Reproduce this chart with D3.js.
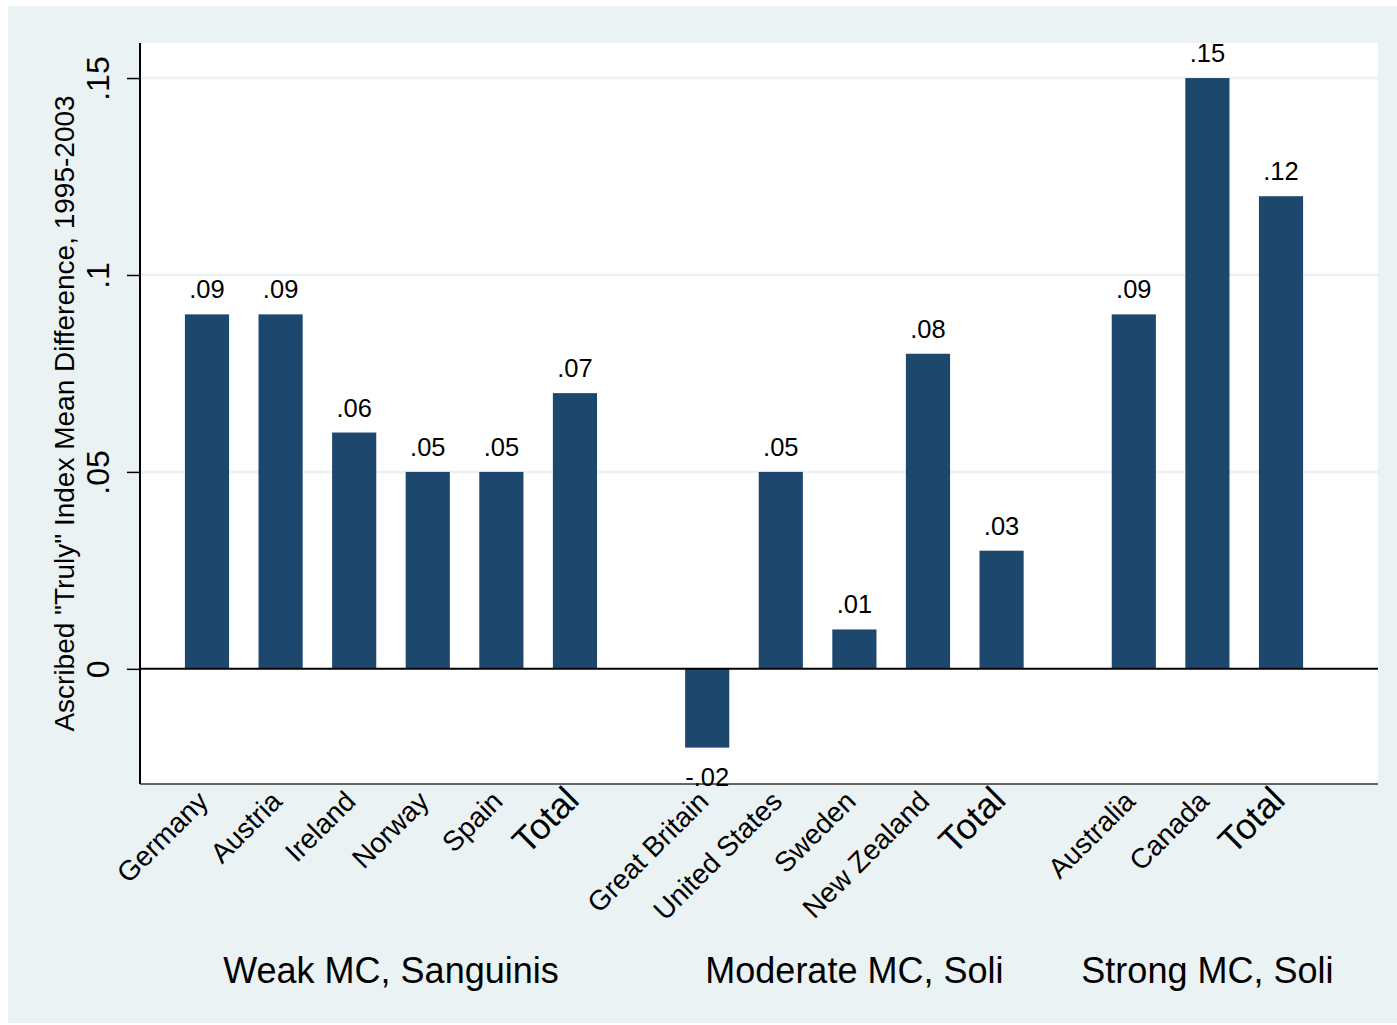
<!DOCTYPE html>
<html>
<head>
<meta charset="utf-8">
<script src="https://cdn.jsdelivr.net/npm/d3@7"></script>
<style>
  html, body { margin: 0; padding: 0; background: #ffffff; }
  svg { display: block; }
  text { font-family: "Liberation Sans", Arial, Helvetica, sans-serif; fill: #000; }
</style>
</head>
<body>
<svg id="chart" width="1397" height="1025"></svg>
<script>
// ---- data ----
const groupNames = ["Weak MC, Sanguinis", "Moderate MC, Soli", "Strong MC, Soli"];
const categories = ["Germany", "Austria", "Ireland", "Norway", "Spain", "Total",
                    "Great Britain", "United States", "Sweden", "New Zealand", "Total",
                    "Australia", "Canada", "Total"];
const groupIndex = [0, 0, 0, 0, 0, 0, 1, 1, 1, 1, 1, 2, 2, 2];
const values = [0.09, 0.09, 0.06, 0.05, 0.05, 0.07,
                -0.02, 0.05, 0.01, 0.08, 0.03,
                0.09, 0.15, 0.12];
const yTicks = [0, 0.05, 0.10, 0.15];
const yTickLabels = ["0", ".05", ".1", ".15"];
const yTitle = 'Ascribed "Truly" Index Mean Difference, 1995-2003';

// ---- layout ----
const svg = d3.select("#chart");
const W = 1397, H = 1025;
const plot = { left: 140, right: 1378, top: 43, bottom: 784 };
const groupGap = 0.797;         // extra slot spacing between groups
const barColor = "#1d476d";
const bgColor = "#eaf2f3";

// outer background
svg.append("rect").attr("x", 8).attr("y", 6).attr("width", W - 8).attr("height", H - 6 - 2)
  .attr("fill", bgColor);
// plot region
svg.append("rect").attr("x", plot.left).attr("y", plot.top)
  .attr("width", plot.right - plot.left).attr("height", plot.bottom - plot.top)
  .attr("fill", "#ffffff");

const slot = categories.map((c, i) => i + groupIndex[i] * groupGap);
const x = d3.scaleLinear()
  .domain([0, categories.length - 1 + (groupNames.length - 1) * groupGap])
  .range([207, 1281]);
const step = x(1) - x(0);
const barW = step * 0.6;

const y = d3.scaleLinear().domain([-0.02924, 0.1589]).range([plot.bottom, plot.top]);

// gridlines
svg.append("g").selectAll("line").data(yTicks.filter(t => t !== 0)).join("line")
  .attr("x1", plot.left).attr("x2", plot.right)
  .attr("y1", d => y(d)).attr("y2", d => y(d))
  .attr("stroke", bgColor).attr("stroke-width", 2.5);

// bars
svg.append("g").selectAll("rect").data(values).join("rect")
  .attr("x", (d, i) => x(slot[i]) - barW / 2)
  .attr("width", barW)
  .attr("y", d => y(Math.max(0, d)))
  .attr("height", d => Math.abs(y(d) - y(0)))
  .attr("fill", barColor);

// zero line
svg.append("line").attr("x1", plot.left).attr("x2", plot.right)
  .attr("y1", y(0)).attr("y2", y(0)).attr("stroke", "#000").attr("stroke-width", 2);

// bottom border line
svg.append("line").attr("x1", plot.left).attr("x2", plot.right)
  .attr("y1", plot.bottom).attr("y2", plot.bottom).attr("stroke", "#333").attr("stroke-width", 1.5);

// value labels
const fmt = v => {
  const s = d3.format(".2f")(Math.abs(v)).replace(/^0/, "");
  return (v < 0 ? "-" : "") + s;
};
svg.append("g").selectAll("text").data(values).join("text")
  .attr("x", (d, i) => x(slot[i]))
  .attr("y", d => d >= 0 ? y(d) - 16 : y(d) + 38)
  .attr("text-anchor", "middle")
  .attr("font-size", 25.5)
  .text(d => fmt(d));

// y axis
const yAxis = d3.axisLeft(y).tickValues(yTicks).tickSize(13)
  .tickFormat((d, i) => yTickLabels[i]);
const ga = svg.append("g").attr("transform", `translate(${plot.left},0)`).call(yAxis);
ga.select(".domain").remove();
ga.selectAll(".tick line").attr("stroke", "#000").attr("stroke-width", 1.5);
ga.selectAll(".tick text")
  .attr("font-size", 32)
  .attr("font-family", "Liberation Sans, Arial, sans-serif")
  .attr("fill", "#000")
  .attr("text-anchor", "middle")
  .attr("x", null).attr("dy", null)
  .attr("transform", "translate(-31,0) rotate(-90)");
svg.append("line").attr("x1", plot.left).attr("x2", plot.left)
  .attr("y1", plot.top).attr("y2", plot.bottom).attr("stroke", "#000").attr("stroke-width", 2);

// y title
svg.append("text")
  .attr("transform", `translate(74,${(plot.top + plot.bottom) / 2}) rotate(-90)`)
  .attr("text-anchor", "middle")
  .attr("font-size", 28)
  .text(yTitle);

// x category labels
svg.append("g").selectAll("text").data(categories).join("text")
  .attr("transform", (d, i) => `translate(${x(slot[i]) + (d === "Total" ? 6 : 3)},${d === "Total" ? 802 : 803}) rotate(-45)`)
  .attr("text-anchor", "end")
  .attr("font-size", d => d === "Total" ? 36 : 28)
  .text(d => d);

// group labels
groupNames.forEach((g, gi) => {
  const idx = groupIndex.map((v, i) => v === gi ? i : -1).filter(i => i >= 0);
  const cx = (x(slot[idx[0]]) + x(slot[idx[idx.length - 1]])) / 2;
  svg.append("text").attr("x", cx).attr("y", 983)
    .attr("text-anchor", "middle").attr("font-size", 36).text(g);
});
</script>
</body>
</html>
